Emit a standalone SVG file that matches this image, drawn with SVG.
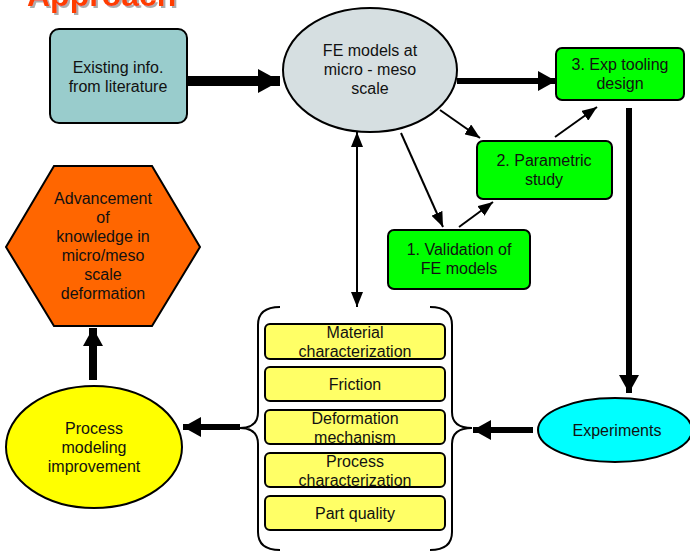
<svg xmlns="http://www.w3.org/2000/svg" width="690" height="554" viewBox="0 0 690 554">
<style>
  text { font-family: "Liberation Sans", Arial, sans-serif; font-size: 16px; fill: #111; text-anchor: middle; }
  .node { stroke: #000; stroke-width: 2; }
  .thin { stroke: #000; stroke-width: 2; fill: none; }
  .thick { stroke: #000; fill: none; }
  .title { font-weight: bold; font-size: 32px; text-anchor: start; fill: #ff3c00; }
</style>
<defs>
  <filter id="shadow" x="-5%" y="-20%" width="115%" height="160%">
    <feDropShadow dx="2" dy="2" stdDeviation="0.6" flood-color="#999" flood-opacity="0.8"/>
  </filter>
  <marker id="ah" viewBox="0 0 15 12" markerUnits="userSpaceOnUse" markerWidth="15" markerHeight="12" refX="15" refY="6" orient="auto-start-reverse">
    <path d="M0,0 L15,6 L0,12 z" fill="#000"/>
  </marker>
  <marker id="big" viewBox="0 0 22 24" markerUnits="userSpaceOnUse" markerWidth="22" markerHeight="24" refX="22" refY="12" orient="auto">
    <path d="M0,0 L22,12 L0,24 z" fill="#000"/>
  </marker>
  <marker id="mid" viewBox="0 0 18 20" markerUnits="userSpaceOnUse" markerWidth="18" markerHeight="20" refX="18" refY="10" orient="auto">
    <path d="M0,0 L18,10 L0,20 z" fill="#000"/>
  </marker>
</defs>

<g id="title">
  <text class="title" x="27" y="6" filter="url(#shadow)">Approach</text>
</g>

<g id="connectors">
  <line class="thick" x1="187" y1="81" x2="280" y2="81" stroke-width="10" marker-end="url(#big)"/>
  <line class="thick" x1="457" y1="81" x2="556" y2="81" stroke-width="6" marker-end="url(#mid)"/>
  <line class="thin" x1="440" y1="110" x2="480" y2="138" marker-end="url(#ah)"/>
  <line class="thin" x1="401" y1="133" x2="443" y2="227" marker-end="url(#ah)"/>
  <line class="thin" x1="459" y1="227" x2="493" y2="202" marker-end="url(#ah)"/>
  <line class="thin" x1="555" y1="137" x2="597" y2="107" marker-end="url(#ah)"/>
  <line class="thin" x1="357" y1="132" x2="357" y2="307" marker-start="url(#ah)" marker-end="url(#ah)"/>
  <line class="thick" x1="629" y1="108" x2="629" y2="393" stroke-width="6" marker-end="url(#mid)"/>
  <line class="thick" x1="533" y1="430" x2="473" y2="430" stroke-width="6" marker-end="url(#mid)"/>
  <line class="thick" x1="240" y1="427" x2="183" y2="427" stroke-width="6" marker-end="url(#mid)"/>
  <line class="thick" x1="93" y1="380" x2="93" y2="328" stroke-width="8" marker-end="url(#mid)"/>
</g>

<g id="existing">
  <rect class="node" x="50" y="29" width="137" height="94" rx="9" fill="#99cccc"/>
  <text x="118" y="73">Existing info.</text>
  <text x="118" y="92">from literature</text>
</g>

<g id="fe-models">
  <ellipse class="node" cx="370" cy="70" rx="87" ry="62" fill="#d6dfe1"/>
  <text x="370" y="56">FE models at</text>
  <text x="370" y="75">micro - meso</text>
  <text x="370" y="94">scale</text>
</g>

<g id="exp-tooling">
  <rect class="node" x="556" y="48" width="128" height="52" rx="6" fill="#00ff00"/>
  <text x="620" y="70">3. Exp tooling</text>
  <text x="620" y="89">design</text>
</g>

<g id="parametric">
  <rect class="node" x="477" y="141" width="135" height="58" rx="6" fill="#00ff00"/>
  <text x="544" y="166">2. Parametric</text>
  <text x="544" y="185">study</text>
</g>

<g id="validation">
  <rect class="node" x="388" y="230" width="142" height="59" rx="6" fill="#00ff00"/>
  <text x="459" y="255">1. Validation of</text>
  <text x="459" y="274">FE models</text>
</g>

<g id="experiments">
  <ellipse class="node" cx="615" cy="430" rx="77" ry="32" fill="#00ffff"/>
  <text x="617" y="436">Experiments</text>
</g>

<g id="brace-group">
  <path class="thin" d="M280,307 Q258,307 258,325 L258,412 Q258,428 240,428 Q258,428 258,444 L258,532 Q258,550 280,550"/>
  <path class="thin" d="M430,307 Q452,307 452,325 L452,412 Q452,428 472,428 Q452,428 452,444 L452,532 Q452,550 430,550"/>
  <g id="material">
    <rect class="node" x="265" y="324" width="180" height="35" rx="5" fill="#ffff66"/>
    <text x="355" y="338">Material</text>
    <text x="355" y="357">characterization</text>
  </g>
  <g id="friction">
    <rect class="node" x="265" y="367" width="180" height="34" rx="5" fill="#ffff66"/>
    <text x="355" y="390">Friction</text>
  </g>
  <g id="deformation">
    <rect class="node" x="265" y="410" width="180" height="34" rx="5" fill="#ffff66"/>
    <text x="355" y="424">Deformation</text>
    <text x="355" y="443">mechanism</text>
  </g>
  <g id="process-char">
    <rect class="node" x="265" y="453" width="180" height="34" rx="5" fill="#ffff66"/>
    <text x="355" y="467">Process</text>
    <text x="355" y="486">characterization</text>
  </g>
  <g id="part-quality">
    <rect class="node" x="265" y="496" width="180" height="34" rx="5" fill="#ffff66"/>
    <text x="355" y="519">Part quality</text>
  </g>
</g>

<g id="process-modeling">
  <ellipse class="node" cx="94" cy="447" rx="88" ry="61" fill="#ffff00"/>
  <text x="94" y="434">Process</text>
  <text x="94" y="453">modeling</text>
  <text x="94" y="472">improvement</text>
</g>

<g id="advancement">
  <polygon class="node" points="54,166 152,166 200,247 152,326 54,326 6,247" fill="#ff6600"/>
  <text x="103" y="204">Advancement</text>
  <text x="103" y="223">of</text>
  <text x="103" y="242">knowledge in</text>
  <text x="103" y="261">micro/meso</text>
  <text x="103" y="280">scale</text>
  <text x="103" y="299">deformation</text>
</g>
</svg>
